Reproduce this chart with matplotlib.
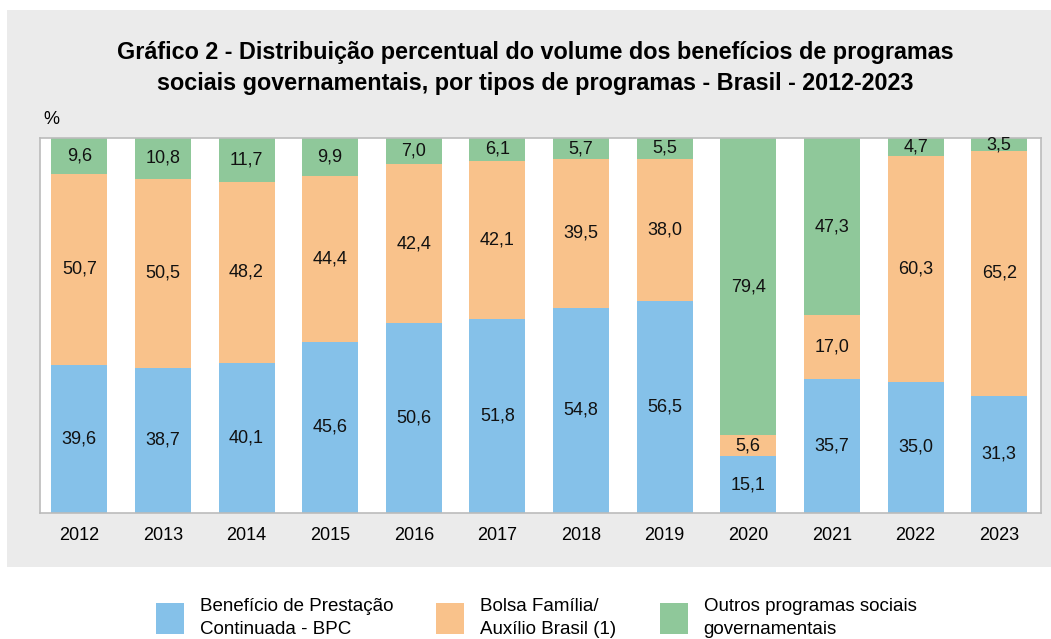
import numpy as np
import matplotlib.pyplot as plt
from matplotlib.patches import Rectangle, Patch

plt.rcParams['font.family'] = ['Liberation Sans', 'DejaVu Sans']

anos = ['2012', '2013', '2014', '2015', '2016', '2017', '2018', '2019',
        '2020', '2021', '2022', '2023']
bpc = [39.6, 38.7, 40.1, 45.6, 50.6, 51.8, 54.8, 56.5, 15.1, 35.7, 35.0, 31.3]
bolsa = [50.7, 50.5, 48.2, 44.4, 42.4, 42.1, 39.5, 38.0, 5.6, 17.0, 60.3, 65.2]
outros = [9.6, 10.8, 11.7, 9.9, 7.0, 6.1, 5.7, 5.5, 79.4, 47.3, 4.7, 3.5]

series = [bpc, bolsa, outros]
nomes = ['Benefício de Prestação\nContinuada - BPC',
         'Bolsa Família/\nAuxílio Brasil (1)',
         'Outros programas sociais\ngovernamentais']
cores = ['#85C1E9', '#F9C28B', '#8FC89A']

W, H = 1051, 639
fig = plt.figure(figsize=(W / 100, H / 100), dpi=100)
fig.patch.set_facecolor('white')

# painel cinza
fig.add_artist(Rectangle((7 / W, 1 - 567 / H), (W - 7) / W, (567 - 10) / H,
                         transform=fig.transFigure, facecolor='#EBEBEB',
                         edgecolor='none', zorder=0))

ax = fig.add_axes([40 / W, 1 - 513 / H, (1041 - 40) / W, (513 - 138) / H])
ax.set_facecolor('white')

x = np.arange(len(anos))
base = np.zeros(len(anos))
for vals, cor in zip(series, cores):
    vals = np.array(vals)
    ax.bar(x, vals, bottom=base, width=0.67, color=cor, edgecolor='none')
    for xi, b, v in zip(x, base, vals):
        ax.text(xi, b + v / 2, f'{v:.1f}'.replace('.', ','), ha='center',
                va='center', fontsize=13, color='#111111')
    base += vals

ax.set_xlim(-0.47, 11.5)
ax.set_ylim(0, 100)
ax.set_xticks(x)
ax.set_xticklabels(anos, fontsize=13)
ax.set_yticks([])
ax.tick_params(axis='x', length=0, pad=10)
for s in ax.spines.values():
    s.set_color('#BBBBBB')
    s.set_linewidth(1.2)

fig.text(535 / W, 1 - 68 / H,
         'Gráfico 2 - Distribuição percentual do volume dos benefícios de programas\n'
         'sociais governamentais, por tipos de programas - Brasil - 2012-2023',
         ha='center', va='center', fontsize=16.8, fontweight='bold',
         linespacing=1.4)
fig.text(43 / W, 1 - 120 / H, '%', ha='left', va='center', fontsize=13)

handles = [Patch(facecolor=c, edgecolor='none') for c in cores]
leg = fig.legend(handles, nomes, loc='center', bbox_to_anchor=(536 / W, 1 - 618 / H),
                 ncol=3, frameon=False, fontsize=13.5, handlelength=1.5,
                 handleheight=2.15, handletextpad=0.85, columnspacing=2.3,
                 borderaxespad=0, borderpad=0)
for t in leg.get_texts():
    t.set_linespacing(1.45)

fig.savefig('out.png', dpi=100)
